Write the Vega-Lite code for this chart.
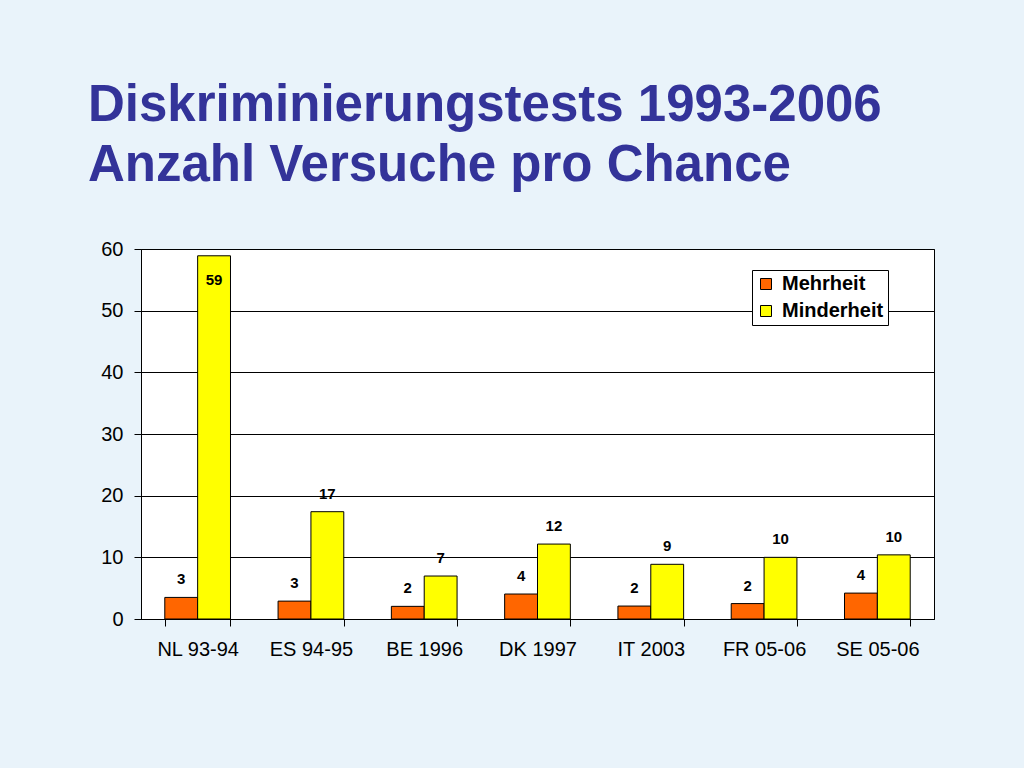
{
  "$schema": "https://vega.github.io/schema/vega-lite/v6.json",
  "width": 793,
  "height": 370,
  "autosize": {"type": "none"},
  "padding": {"left": 141, "top": 249, "right": 90, "bottom": 149},
  "background": "#e9f3fa",
  "title": {
    "text": ["Diskriminierungstests 1993-2006", "Anzahl Versuche pro Chance"],
    "anchor": "start",
    "frame": "group",
    "font": "Liberation Sans",
    "fontSize": 51,
    "fontWeight": "bold",
    "color": "#333399",
    "lineHeight": 60,
    "dx": -53,
    "offset": 47
  },
  "config": {
    "view": {"fill": "white", "stroke": "black", "strokeWidth": 1},
    "font": "Liberation Sans"
  },
  "data": {
    "values": [
      {"land": "NL 93-94", "gruppe": "Mehrheit", "wert": 3.5, "label": "3"},
      {"land": "NL 93-94", "gruppe": "Minderheit", "wert": 58.9, "label": "59"},
      {"land": "ES 94-95", "gruppe": "Mehrheit", "wert": 2.9, "label": "3"},
      {"land": "ES 94-95", "gruppe": "Minderheit", "wert": 17.4, "label": "17"},
      {"land": "BE 1996", "gruppe": "Mehrheit", "wert": 2.05, "label": "2"},
      {"land": "BE 1996", "gruppe": "Minderheit", "wert": 6.97, "label": "7"},
      {"land": "DK 1997", "gruppe": "Mehrheit", "wert": 4.05, "label": "4"},
      {"land": "DK 1997", "gruppe": "Minderheit", "wert": 12.15, "label": "12"},
      {"land": "IT 2003", "gruppe": "Mehrheit", "wert": 2.1, "label": "2"},
      {"land": "IT 2003", "gruppe": "Minderheit", "wert": 8.87, "label": "9"},
      {"land": "FR 05-06", "gruppe": "Mehrheit", "wert": 2.5, "label": "2"},
      {"land": "FR 05-06", "gruppe": "Minderheit", "wert": 10.0, "label": "10"},
      {"land": "SE 05-06", "gruppe": "Mehrheit", "wert": 4.2, "label": "4"},
      {"land": "SE 05-06", "gruppe": "Minderheit", "wert": 10.4, "label": "10"}
    ]
  },
  "encoding": {
    "x": {
      "field": "land",
      "type": "nominal",
      "sort": null,
      "title": null,
      "scale": {"paddingInner": 0.42, "paddingOuter": 0.21},
      "axis": {
        "labelAngle": 0,
        "labelFontSize": 20,
        "labelColor": "black",
        "labelPadding": 13,
        "tickBand": "extent",
        "tickSize": 7,
        "tickColor": "black",
        "domainColor": "black",
        "grid": false
      }
    },
    "xOffset": {"field": "gruppe", "type": "nominal", "sort": ["Mehrheit", "Minderheit"], "scale": {"paddingInner": 0, "paddingOuter": 0}},
    "y": {
      "field": "wert",
      "type": "quantitative",
      "title": null,
      "scale": {"domain": [0, 60], "nice": false},
      "axis": {
        "values": [0, 10, 20, 30, 40, 50, 60],
        "labelFontSize": 20,
        "labelColor": "black",
        "labelPadding": 11,
        "tickSize": 7,
        "tickColor": "black",
        "domainColor": "black",
        "gridColor": "black",
        "gridOpacity": 1,
        "gridWidth": 1
      }
    }
  },
  "layer": [
    {
      "mark": {"type": "bar", "stroke": "black", "strokeWidth": 1},
      "encoding": {
        "color": {
          "field": "gruppe",
          "type": "nominal",
          "sort": ["Mehrheit", "Minderheit"],
          "scale": {"domain": ["Mehrheit", "Minderheit"], "range": ["#ff6600", "#ffff00"]},
          "legend": {
            "title": null,
            "orient": "none",
            "legendX": 611,
            "legendY": 21,
            "fillColor": "white",
            "strokeColor": "black",
            "padding": 4,
            "symbolType": "square",
            "symbolSize": 121,
            "symbolStrokeColor": "black",
            "symbolStrokeWidth": 1,
            "labelFontSize": 20,
            "labelFontWeight": "bold",
            "labelColor": "black",
            "rowPadding": 7,
            "labelOffset": 6
          }
        }
      }
    },
    {
      "transform": [{"filter": "datum.wert < 50"}],
      "mark": {"type": "text", "baseline": "middle", "dy": -18, "fontSize": 15, "fontWeight": "bold", "color": "black"},
      "encoding": {"text": {"field": "label"}}
    },
    {
      "transform": [{"filter": "datum.wert >= 50"}],
      "mark": {"type": "text", "baseline": "middle", "dy": 24, "fontSize": 15, "fontWeight": "bold", "color": "black"},
      "encoding": {"text": {"field": "label"}}
    }
  ]
}
